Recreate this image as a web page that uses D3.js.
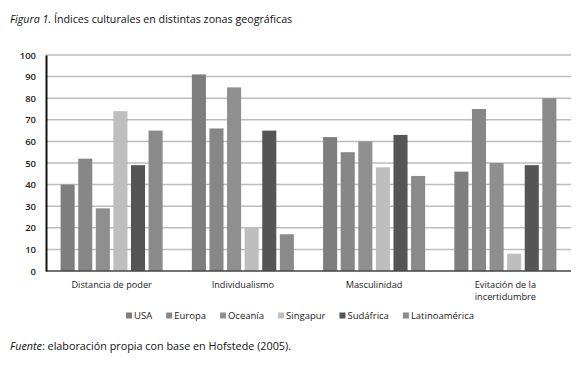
<!DOCTYPE html>
<html><head><meta charset="utf-8">
<script src="https://cdn.jsdelivr.net/npm/d3@7"></script>
<style>body{margin:0;background:#fff}svg{display:block}</style>
</head><body>
<script>
const categories = ["Distancia de poder", "Individualismo", "Masculinidad", "Evitación de la incertidumbre"];
const categoryLines = [["Distancia de poder"], ["Individualismo"], ["Masculinidad"], ["Evitación de la", "incertidumbre"]];
const seriesNames = ["USA", "Europa", "Oceanía", "Singapur", "Sudáfrica", "Latinoamérica"];
const seriesColors = ["#7e7e7e", "#878787", "#8f8f8f", "#bebebe", "#555555", "#8a8a8a"];
const USA = [40, 91, 62, 46];
const Europa = [52, 66, 55, 75];
const Oceania = [29, 85, 60, 50];
const Singapur = [74, 20, 48, 8];
const Sudafrica = [49, 65, 63, 49];
const Latinoamerica = [65, 17, 44, 80];
const seriesValues = [USA, Europa, Oceania, Singapur, Sudafrica, Latinoamerica];
const yTicks = [0, 10, 20, 30, 40, 50, 60, 70, 80, 90, 100];

(function () {
const W = 576, H = 370;
const svg = d3.select("body").append("svg").attr("width", W).attr("height", H);
const font = "'Open Sans', sans-serif";

const mLeft = 46, mRight = 571, mTop = 55, mBottom = 271;
const x0 = d3.scaleBand().domain(categories).range([mLeft, mRight]).padding(0);
const x1 = d3.scaleBand().domain(seriesNames).range([0, x0.bandwidth()]).paddingInner(0.2).paddingOuter(0.83);
const y = d3.scaleLinear().domain([0, 100]).range([mBottom, mTop]);

// gridlines
svg.append("g").selectAll("line").data(yTicks.slice(1)).join("line")
  .attr("x1", mLeft).attr("x2", mRight)
  .attr("y1", d => y(d)).attr("y2", d => y(d))
  .attr("stroke", "#bdbdbd").attr("stroke-width", 1.5);

// bars
const groups = svg.append("g").selectAll("g").data(categories).join("g")
  .attr("transform", d => `translate(${x0(d)},0)`);
groups.selectAll("rect").data((c, ci) => seriesNames.map((s, si) => ({s, si, v: seriesValues[si][ci]}))).join("rect")
  .attr("x", d => x1(d.s)).attr("width", x1.bandwidth())
  .attr("y", d => y(d.v)).attr("height", d => y(0) - y(d.v))
  .attr("fill", d => seriesColors[d.si]);

// x axis line
svg.append("line").attr("x1", mLeft).attr("x2", mRight).attr("y1", mBottom).attr("y2", mBottom)
  .attr("stroke", "#444").attr("stroke-width", 1.5);
// y axis
const yAxis = d3.axisLeft(y).tickValues(yTicks).tickSize(0).tickPadding(10);
const ya = svg.append("g").attr("transform", `translate(${mLeft},0)`).call(yAxis);
ya.select(".domain").attr("stroke", "#111").attr("stroke-width", 2);
ya.selectAll("text").attr("font-family", font).attr("font-size", 9.5).attr("font-weight", 600).attr("fill", "#222");

// category labels
categories.forEach((c, i) => {
  const t = svg.append("text").attr("text-anchor", "middle").attr("font-family", font)
    .attr("font-size", 9.2).attr("fill", "#1a1a1a");
  categoryLines[i].forEach((ln, j) => {
    t.append("tspan").attr("x", x0(c) + x0.bandwidth() / 2).attr("y", 288 + j * 12).text(ln);
  });
});

// legend
const lg = svg.append("g");
let lx = 0;
seriesNames.forEach((s, i) => {
  const g = lg.append("g").attr("transform", `translate(${lx},0)`);
  g.append("rect").attr("x", 0).attr("y", -6.5).attr("width", 6).attr("height", 6).attr("fill", seriesColors[i]);
  const t = g.append("text").attr("x", 8).attr("y", 0).attr("font-family", font).attr("font-size", 9.5)
    .attr("fill", "#1a1a1a").text(s);
  lx += 8 + t.node().getComputedTextLength() + 14;
});
lx -= 14;
lg.attr("transform", `translate(${300 - lx / 2},319)`);

// title
const title = svg.append("text").attr("x", 10).attr("y", 23).attr("font-family", font).attr("font-size", 10.7).attr("fill", "#111");
title.append("tspan").attr("font-style", "italic").text("Figura 1.");
title.append("tspan").text(" Índices culturales en distintas zonas geográficas");

// footer
const foot = svg.append("text").attr("x", 10).attr("y", 350).attr("font-family", font).attr("font-size", 10.8).attr("fill", "#111");
foot.append("tspan").attr("font-style", "italic").text("Fuente");
foot.append("tspan").text(": elaboración propia con base en Hofstede (2005).");
})();
</script>
</body></html>
